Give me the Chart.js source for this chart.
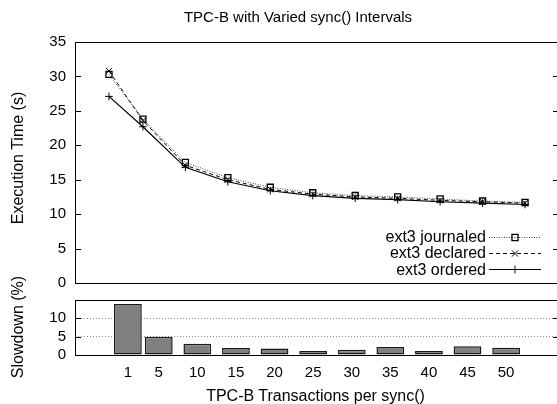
<!DOCTYPE html>
<html><head><meta charset="utf-8">
<script src="https://cdn.jsdelivr.net/npm/chart.js@4/dist/chart.umd.min.js"></script>
<style>
html,body{margin:0;padding:0;width:557px;height:404px;overflow:hidden;background:#fff;}
#wrap{position:relative;width:557px;height:404px;overflow:hidden;font-family:"Liberation Sans",Arial,sans-serif;color:#000;}
canvas{position:absolute;left:0;}
.lbl{position:absolute;white-space:nowrap;font-size:16px;line-height:16px;}
.rot{transform:translate(-50%,-50%) rotate(-90deg);}
</style></head><body>
<div id="wrap">
<canvas id="top" width="565" height="301" style="top:0"></canvas>
<canvas id="bot" width="565" height="122" style="top:282px"></canvas>
<div class="lbl" style="left:0;width:596px;text-align:center;top:9px;font-size:15px;line-height:15px;">TPC-B with Varied sync() Intervals</div>
<div class="lbl rot" style="left:18px;top:158px;">Execution Time (s)</div>
<div class="lbl rot" style="left:18px;top:327px;">Slowdown (%)</div>
<div class="lbl" style="left:0;width:631px;text-align:center;top:388px;">TPC-B Transactions per sync()</div>
</div>
<script>
// ---- data ----
const syncIntervals = [1, 5, 10, 15, 20, 25, 30, 35, 40, 45, 50];
const journaled = [30.3, 23.8, 17.5, 15.3, 13.9, 13.1, 12.7, 12.5, 12.2, 11.9, 11.7];
const declared  = [30.8, 23.6, 17.1, 15.0, 13.6, 12.9, 12.5, 12.3, 12.0, 11.8, 11.6];
const ordered   = [27.1, 22.7, 16.8, 14.7, 13.4, 12.7, 12.3, 12.1, 11.8, 11.6, 11.4];
const slowdown  = [13.9, 5.0, 3.1, 1.9, 1.8, 1.1, 1.4, 2.2, 1.1, 2.4, 2.0];
const seriesLabels = ['ext3 journaled', 'ext3 declared', 'ext3 ordered'];
const timeTicks = [0, 5, 10, 15, 20, 25, 30, 35];
const slowTicks = [0, 5, 10];

const FONT = '"Liberation Sans", Arial, sans-serif';
const pts = arr => syncIntervals.map((x, i) => ({x: x, y: arr[i]}));

function crisp(v){ return Math.round(v) + 0.5; }

const framePlugin = {
  id: 'frame',
  afterDatasetsDraw(chart) {
    const {ctx, chartArea: a} = chart;
    const ys = chart.scales.y;
    ctx.save();
    ctx.strokeStyle = '#000';
    ctx.lineWidth = 1;
    ctx.setLineDash([]);
    ctx.strokeRect(crisp(a.left), crisp(a.top), Math.round(a.right) - Math.round(a.left), Math.round(a.bottom) - Math.round(a.top));
    ctx.beginPath();
    ys.ticks.forEach(t => {
      const y = crisp(ys.getPixelForValue(t.value));
      ctx.moveTo(a.left, y); ctx.lineTo(a.left + 6, y);
      ctx.moveTo(a.right - 6, y); ctx.lineTo(a.right, y);
    });
    ctx.stroke();
    ctx.restore();
  }
};

const legendPlugin = {
  id: 'customLegend',
  afterDraw(chart) {
    const {ctx, chartArea: a} = chart;
    const n = chart.data.datasets.length;
    ctx.save();
    ctx.font = '16px ' + FONT;
    ctx.textAlign = 'right';
    ctx.textBaseline = 'middle';
    chart.data.datasets.forEach((ds, i) => {
      const y = a.bottom - 13.7 - (n - 1 - i) * 16.3;
      ctx.fillStyle = '#000';
      ctx.fillText(ds.label, 486, y + 1);
      ctx.strokeStyle = ds.borderColor;
      ctx.lineWidth = ds.borderWidth;
      ctx.setLineDash(ds.borderDash || []);
      ctx.beginPath();
      ctx.moveTo(489, crisp(y)); ctx.lineTo(541, crisp(y));
      ctx.stroke();
      ctx.setLineDash([]);
      ctx.strokeStyle = '#000';
      ctx.fillStyle = 'rgba(0,0,0,0)';
      ctx.lineWidth = ds.pointBorderWidth;
      Chart.helpers.drawPoint(ctx, {pointStyle: ds.pointStyle, radius: ds.pointRadius, borderWidth: ds.pointBorderWidth, rotation: 0}, 515, crisp(y));
    });
    ctx.restore();
  }
};

new Chart(document.getElementById('top'), {
  type: 'line',
  data: {
    datasets: [
      {label: seriesLabels[0], data: pts(journaled), borderColor: '#444', borderWidth: 1, borderDash: [1, 1.5],
       pointStyle: 'rect', pointRadius: 4.3, pointBorderColor: '#000', pointBackgroundColor: 'rgba(0,0,0,0)', pointBorderWidth: 1.3, order: 3},
      {label: seriesLabels[1], data: pts(declared), borderColor: '#000', borderWidth: 1, borderDash: [4, 3],
       pointStyle: 'crossRot', pointRadius: 4.3, pointBorderColor: '#000', pointBorderWidth: 1, order: 2},
      {label: seriesLabels[2], data: pts(ordered), borderColor: '#000', borderWidth: 1.2,
       pointStyle: 'cross', pointRadius: 3.8, pointBorderColor: '#000', pointBorderWidth: 1, order: 1}
    ]
  },
  options: {
    responsive: false, animation: false,
    layout: {padding: {top: 42, right: 6, bottom: 7, left: 0}},
    plugins: {legend: {display: false}, tooltip: {enabled: false}, title: {display: false}},
    elements: {line: {tension: 0}},
    scales: {
      x: {type: 'linear', min: -3, max: 54, display: false},
      y: {min: 0, max: 35,
          afterBuildTicks: s => { s.ticks = timeTicks.map(v => ({value: v})); },
          afterFit: s => { s.width = 75; },
          ticks: {padding: 9, color: '#000', font: {family: FONT, size: 15}},
          grid: {display: false, drawTicks: false}, border: {display: false}}
    }
  },
  plugins: [framePlugin, legendPlugin]
});

new Chart(document.getElementById('bot'), {
  type: 'bar',
  data: {
    datasets: [{label: 'Slowdown', data: pts(slowdown), backgroundColor: '#808080', borderColor: '#1a1a1a',
                borderWidth: 1.5, borderSkipped: false, barPercentage: 0.9, categoryPercentage: 1}]
  },
  options: {
    responsive: false, animation: false,
    layout: {padding: {top: 10, right: 6, bottom: 0, left: 0}},
    plugins: {legend: {display: false}, tooltip: {enabled: false}},
    scales: {
      x: {type: 'linear', min: -3, max: 54,
          afterBuildTicks: s => { s.ticks = syncIntervals.map(v => ({value: v})); },
          afterFit: s => { s.height = 49; },
          ticks: {padding: 9, color: '#000', maxRotation: 0, autoSkip: false, font: {family: FONT, size: 15}},
          grid: {display: false, drawTicks: false}, border: {display: false}},
      y: {min: 0, max: 15,
          afterBuildTicks: s => { s.ticks = slowTicks.map(v => ({value: v})); },
          afterFit: s => { s.width = 75; },
          ticks: {padding: 9, color: '#000', font: {family: FONT, size: 15}},
          grid: {drawTicks: false, lineWidth: 1, color: c => (c.tick && c.tick.value > 0) ? '#8a8a8a' : 'rgba(0,0,0,0)'},
          border: {display: false, dash: [1, 2]}}
    }
  },
  plugins: [framePlugin]
});
</script>
</body></html>
